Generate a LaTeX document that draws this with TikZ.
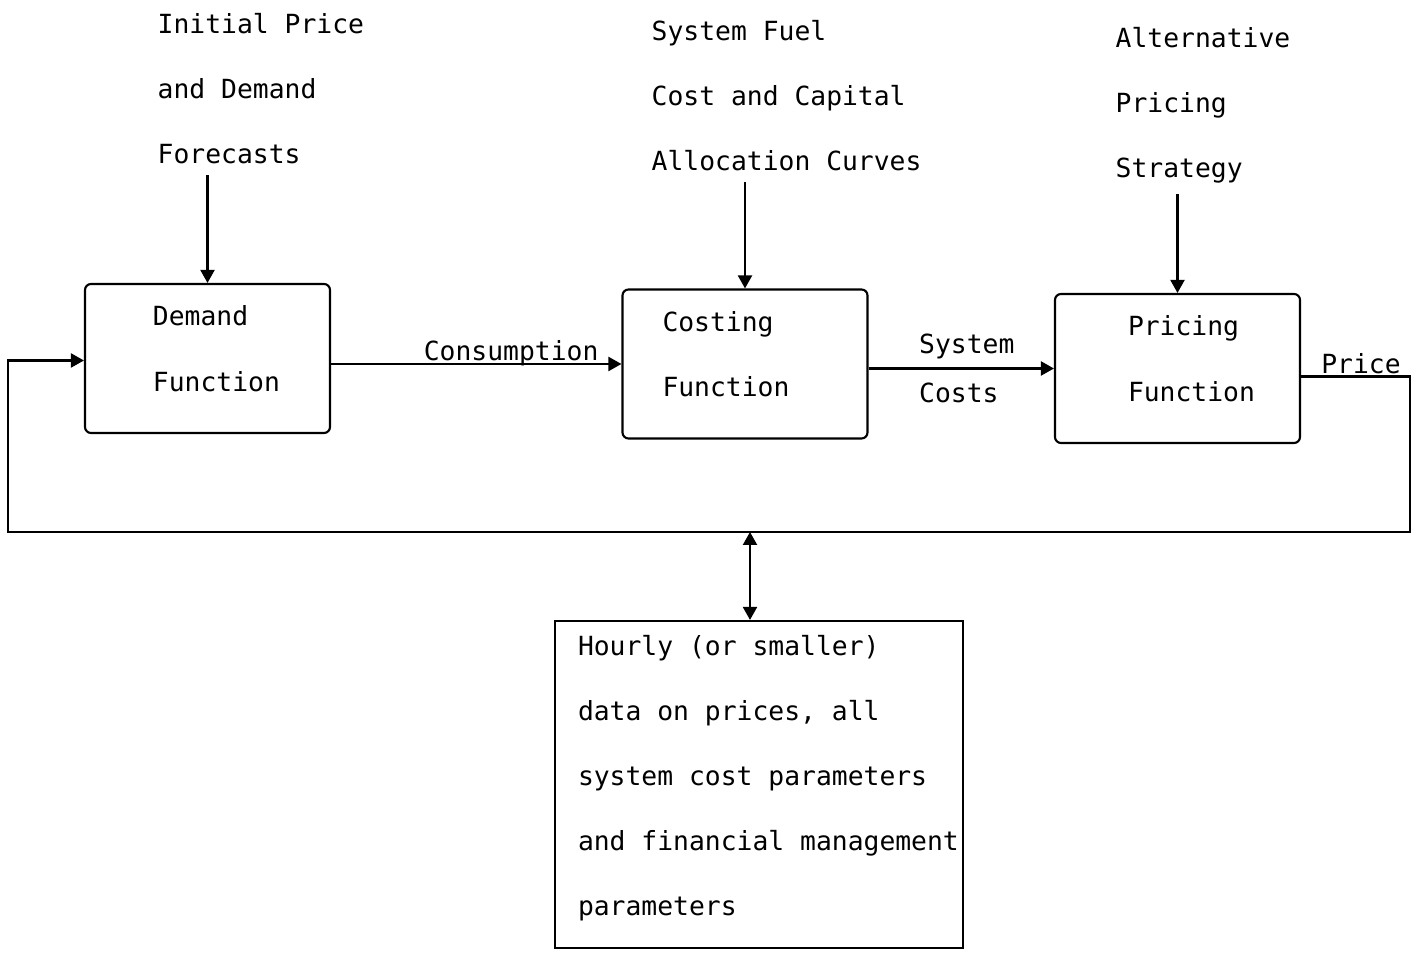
\documentclass[tikz,border=0pt]{standalone}
\usepackage{fontspec}
\setmonofont{DejaVu Sans Mono}
\usetikzlibrary{arrows.meta}

\tikzset{
	every node/.style={font=\ttfamily\fontsize{7.5pt}{18.5pt}\selectfont},
	intext/.style={anchor=north west, align=left, inner sep=0pt},
	func/.style={draw, semithick, rounded corners=0.6mm, text width=2.45cm, inner xsep=0pt, minimum height=1.49cm,
		align=flush left, text depth=0.85cm, execute at begin node={\leftskip=#1}},
	databox/.style={draw, semithick, text width=4.02cm, inner xsep=0.03cm, minimum height=3.27cm, text depth=2.78cm,
		align=flush left, execute at begin node={\leftskip=0.2cm\spaceskip=4.515pt\relax}},
	flow/.style={semithick, -{Triangle[length=1.3mm,width=1.4mm]}},
}

\begin{document}
\begin{tikzpicture}
	\useasboundingbox (0,0) rectangle (14.17,9.53);
	
	% inputs at the top
	\node[intext] (init) at (1.57,9.40) {Initial Price\\and Demand\\Forecasts};
	\node[intext] (fuel) at (6.51,9.33) {System Fuel\\Cost and Capital\\Allocation Curves};
	\node[intext] (strategy) at (11.15,9.26) {Alternative\\Pricing\\Strategy};
	
	% the three functions
	\node[func=0.68cm] (demand) at (2.075,5.945) {Demand\\Function};
	\node[func=0.40cm] (costing) at (7.45,5.89) {Costing\\Function};
	\node[func=0.73cm] (pricing) at (11.775,5.845) {Pricing\\Function};
	
	% data store
	\node[databox] (data) at (7.59,1.685) {Hourly (or smaller)\\data on prices, all\\system cost parameters\\and financial management\\parameters};
	
	\coordinate (loopR) at (14.10,4.21);
	\coordinate (loopL) at (0.08,4.21);
	
	\draw[flow, shorten <=1mm] (init.south -| demand.north) -- (demand.north);
	\draw[flow, shorten <=1mm] (fuel.south -| costing.north) -- (costing.north);
	\draw[flow, shorten <=1mm] (strategy.south -| pricing.north) -- (pricing.north);
	
	\draw[flow] (demand.east |- costing.west) -- node[pos=0.62, above, inner sep=0pt, yshift=-1pt] (cons) {Consumption} (costing.west);
	\draw[flow] (costing.east |- pricing.west) -- node[pos=0.53, align=left, font=\ttfamily\fontsize{7.5pt}{14pt}\selectfont] (syscost) {System\\Costs} (pricing.west);
	
	% price fed back to demand
	\draw[flow] ([yshift=-0.08cm]pricing.east) -- node[pos=0.55, above, inner sep=0.5pt] (price) {Price} ([yshift=-0.08cm]pricing.east -| loopR) -- (loopR) -- (loopL) |- ([yshift=-0.02cm]demand.west);
	
	\draw[semithick, {Triangle[length=1.3mm,width=1.4mm]}-{Triangle[length=1.3mm,width=1.4mm]}] ([xshift=-0.09cm]data.north |- loopL) -- ([xshift=-0.09cm]data.north);
\end{tikzpicture}
\end{document}
